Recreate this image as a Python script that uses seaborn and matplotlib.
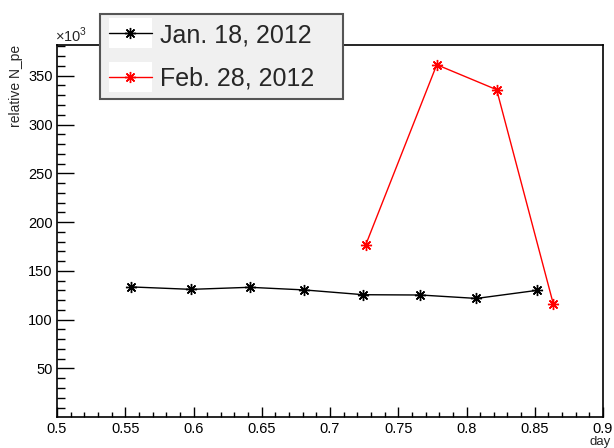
import matplotlib
matplotlib.use("Agg")
import matplotlib.pyplot as plt
from matplotlib.ticker import MultipleLocator, FixedLocator
from matplotlib.legend_handler import HandlerLine2D
from matplotlib.patches import Rectangle
import pandas as pd
import seaborn as sns

# Relative photoelectron yield per run (in units of 10^3), versus time of day
jan_day = [0.5542, 0.5983, 0.6412, 0.6813, 0.7245, 0.7663, 0.8073, 0.8513]
jan_npe = [133.6, 131.1, 133.2, 130.5, 125.6, 125.3, 121.8, 130.0]

feb_day = [0.7262, 0.7782, 0.8221, 0.8636]
feb_npe = [176.8, 361.3, 335.7, 116.1]

labels = ["Jan. 18, 2012", "Feb. 28, 2012"]
colors = ["black", "red"]

x_ticks = [0.5, 0.55, 0.6, 0.65, 0.7, 0.75, 0.8, 0.85, 0.9]
x_tick_labels = ["0.5", "0.55", "0.6", "0.65", "0.7", "0.75", "0.8", "0.85", "0.9"]
y_ticks = [50, 100, 150, 200, 250, 300, 350]

df = pd.concat([
    pd.DataFrame({"day": jan_day, "npe": jan_npe, "run": labels[0]}),
    pd.DataFrame({"day": feb_day, "npe": feb_npe, "run": labels[1]}),
], ignore_index=True)

sns.set_style("ticks")
plt.rcParams["font.family"] = ["Liberation Sans", "DejaVu Sans"]
plt.rcParams["mathtext.fontset"] = "custom"
plt.rcParams["mathtext.rm"] = "Liberation Sans"

W, H = 614, 448
fig = plt.figure(figsize=(W / 100, H / 100), dpi=100)
ax = fig.add_axes([57 / W, 1 - 416.7 / H, 546 / W, 371.7 / H])

star = (8, 2, 0)
sns.lineplot(data=df, x="day", y="npe", hue="run", palette=dict(zip(labels, colors)),
             marker=star, markersize=8, markeredgewidth=1.0, linewidth=1.0,
             sort=False, estimator=None, ax=ax, legend=False)
for line, c in zip(ax.lines, colors):
    line.set_markeredgecolor(c)
    line.set_markerfacecolor(c)

ax.set_xlim(0.5, 0.9)
ax.set_ylim(0.6, 381.5)
ax.xaxis.set_major_locator(FixedLocator(x_ticks))
ax.set_xticklabels(x_tick_labels)
ax.xaxis.set_minor_locator(MultipleLocator(0.01))
ax.yaxis.set_major_locator(FixedLocator(y_ticks))
ax.yaxis.set_minor_locator(MultipleLocator(10))

ax.tick_params(axis="both", which="both", direction="in", top=False, right=False,
               width=1.0, color="black", labelsize=10.5, labelcolor="black")
ax.tick_params(axis="x", which="major", length=7, pad=3.5)
ax.tick_params(axis="x", which="minor", length=3.5)
ax.tick_params(axis="y", which="major", length=12, pad=3)
ax.tick_params(axis="y", which="minor", length=6)
for s in ax.spines.values():
    s.set_visible(True)
    s.set_linewidth(1.2)
    s.set_color("black")

ax.set_xlabel("day", loc="right", fontsize=9.5)
ax.xaxis.set_label_coords((611 - 57) / 546, (416.7 - 435.5) / 371.7)
ax.set_ylabel("relative N_pe", loc="top", fontsize=10)
ax.yaxis.set_label_coords((23 - 57) / 546, (416.7 - 45) / 371.7)
fig.text(55 / W, 1 - 42 / H, r"$\times10^{3}$", fontsize=10.5, ha="left", va="baseline")


class BoxedLine(HandlerLine2D):
    """Legend line sample drawn on a white patch."""

    def create_artists(self, legend, orig_handle, xdescent, ydescent,
                       width, height, fontsize, trans):
        pad = 4.5
        rect = Rectangle((-xdescent, -ydescent - pad), width, height + 2 * pad,
                         facecolor="white", edgecolor="none", transform=trans)
        arts = super().create_artists(legend, orig_handle, xdescent, ydescent,
                                      width, height, fontsize, trans)
        return [rect] + list(arts)


handles = [plt.Line2D([], [], color=c, marker=star, markersize=8, markeredgewidth=1.0,
                      linewidth=1.0, markeredgecolor=c) for c in colors]
leg = ax.legend(handles, labels, loc="upper left",
                bbox_to_anchor=(100 / W, 1 - 98 / H, 243 / W, 84 / H), mode="expand",
                bbox_transform=fig.transFigure, fontsize=18, frameon=True, fancybox=False,
                facecolor="#f0f0f0", edgecolor="#555555", framealpha=1.0,
                borderpad=0.36, labelspacing=0.78, handlelength=1.7, handletextpad=0.35,
                borderaxespad=0, handler_map={plt.Line2D: BoxedLine(numpoints=1)})
leg.get_frame().set_linewidth(1.5)
leg.set_zorder(10)

fig.savefig("out.png", dpi=100)
